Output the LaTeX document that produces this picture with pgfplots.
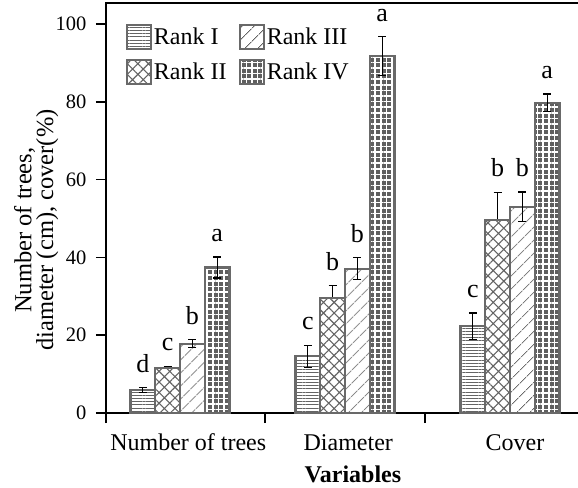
\documentclass[border=0pt]{standalone}
\usepackage{fontspec}
\setmainfont{Liberation Serif}
\usepackage{pgfplots}
\usepackage{pgfplotstable}
\pgfplotsset{compat=1.18}
\usetikzlibrary{patterns.meta}
\newcommand{\fs}[2]{\fontsize{#1}{#2}\selectfont}
\definecolor{bord}{RGB}{105,105,105}
\definecolor{darkf}{RGB}{95,95,95}
\definecolor{patc}{RGB}{100,100,100}

\pgfplotstableread{
x y err lab
0 5.9 0.6 d
1 14.6 2.8 c
2 22.3 3.4 c
}\rankI
\pgfplotstableread{
x y err lab
0 11.5 0.5 c
1 29.6 3.1 b
2 49.7 7.0 b
}\rankII
\pgfplotstableread{
x y err lab
0 17.8 1.0 b
1 37.1 2.8 b
2 53.0 3.8 b
}\rankIII
\pgfplotstableread{
x y err lab
0 37.4 2.7 a
1 91.7 5.0 a
2 79.7 2.3 a
}\rankIV

\pgfplotsset{
  bb/.style={ybar, bar width=0.15, bar shift=#1, draw=bord, line width=2.2bp,
    legend image code/.code={\draw[##1,line width=2.2bp] (0bp,-12bp) rectangle (24bp,12bp);}},
  eb/.style={draw=none, mark=none, forget plot,
    error bars/.cd, y dir=both, y explicit, error mark=-,
    error bar style={draw=black, line width=1.1bp},
    error mark options={rotate=90, draw=black, mark size=4bp, line width=1.1bp}},
  lb/.style={only marks, mark=*, mark size=0pt, mark options={draw=none, fill=none}, forget plot,
    point meta=explicit symbolic, nodes near coords,
    nodes near coords style={anchor=south, inner sep=0pt, yshift=15bp, font=\fs{26bp}{26bp}, text=black}},
}

\begin{document}
\begin{tikzpicture}
\begin{axis}[
  scale only axis, width=474bp, height=410bp,
  xmin=-0.4485, xmax=2.4245, ymin=0, ymax=105.4,
  axis line style={line width=1.8bp, black},
  ytick={0,20,40,60,80,100}, ytick pos=left, xtick pos=bottom,
  tick align=outside, major tick length=10bp,
  tick style={line width=1.5bp, black},
  xtick={-0.4485,0.515,1.485,2.455}, xticklabels={},
  extra x ticks={0.05,1.02,2.03},
  extra x tick labels={Number of trees,Diameter,Cover},
  extra x tick style={major tick length=0pt, tick style={draw=none}},
  xticklabel style={font=\fs{24bp}{28bp}, anchor=base, yshift=-37bp},
  yticklabel style={font=\fs{20.5bp}{24bp}, xshift=-6bp},
  /pgf/number format/assume math mode=true,
  ylabel={Number of trees,\\diameter (cm), cover(\%)},
  ylabel style={at={(axis description cs:-0.147,0.446)}, anchor=center, align=center, font=\fs{24.5bp}{20bp}},
  xlabel={\textbf{Variables}},
  xlabel style={at={(axis description cs:0.521,-0.1707)}, anchor=base, font=\fs{24bp}{28bp}},
  legend columns=2, transpose legend, legend cell align=left,
  legend style={draw=none, fill=none, at={(0.035,0.955)}, anchor=north west,
    font=\fs{24bp}{28bp}, row sep=9bp,
    /tikz/every even column/.append style={column sep=10bp}},
]
\coordinate (o) at (rel axis cs:0,0);
% Rank I
\addplot[bb=-0.225, fill=white, postaction={pattern={Lines[angle=0,distance=3.2bp,line width=0.7bp]}, pattern color=patc}]
  table[x=x,y=y]{\rankI};
\addlegendentry{Rank I}
\addplot[eb] table[x expr=\thisrow{x}-0.225,y=y,y error=err]{\rankI};
\addplot[lb] table[x expr=\thisrow{x}-0.225,y expr=\thisrow{y}+\thisrow{err},meta=lab]{\rankI};
% Rank II (error bars behind bars)
\addplot[eb] table[x expr=\thisrow{x}-0.075,y=y,y error=err]{\rankII};
\addplot[bb=-0.075, fill=white, postaction={pattern={Hatch[angle=45,distance=7.5bp,line width=1.1bp]}, pattern color=patc}]
  table[x=x,y=y]{\rankII};
\addlegendentry{Rank II}
\addplot[lb] table[x expr=\thisrow{x}-0.075,y expr=\thisrow{y}+\thisrow{err},meta=lab]{\rankII};
% Rank III
\addplot[bb=0.075, fill=white, postaction={pattern={Lines[angle=45,distance=10bp,line width=0.9bp]}, pattern color=patc}]
  table[x=x,y=y]{\rankIII};
\addlegendentry{Rank III}
\addplot[eb] table[x expr=\thisrow{x}+0.075,y=y,y error=err]{\rankIII};
\addplot[lb] table[x expr=\thisrow{x}+0.075,y expr=\thisrow{y}+\thisrow{err},meta=lab]{\rankIII};
% Rank IV
\addplot[bb=0.225, fill=darkf, postaction={pattern={Hatch[angle=0,distance=5.6bp,line width=1.6bp]}, pattern color=white}]
  table[x=x,y=y]{\rankIV};
\addlegendentry{Rank IV}
\addplot[eb] table[x expr=\thisrow{x}+0.225,y=y,y error=err]{\rankIV};
\addplot[lb] table[x expr=\thisrow{x}+0.225,y expr=\thisrow{y}+\thisrow{err},meta=lab]{\rankIV};
\end{axis}
\pgfresetboundingbox
\path (o) ++(-106bp,-75bp) rectangle ++(578bp,488bp);
\end{tikzpicture}
\end{document}
